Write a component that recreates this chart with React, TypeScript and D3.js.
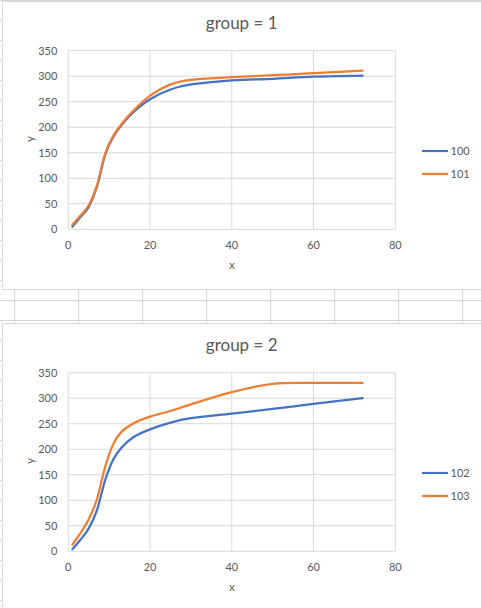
import React from 'react';
import * as d3 from 'd3';

const xValues = [1, 3, 5, 7, 9, 11, 13, 16, 20, 25, 30, 40, 50, 60, 72];

const series100 = [5, 24, 44, 83, 146, 181, 204, 230, 255, 274, 284, 292, 295, 299, 301];
const series101 = [9, 27, 47, 86, 148, 183, 206, 233, 262, 284, 293, 298, 302, 306, 311];
const series102 = [4, 23, 45, 80, 139, 180, 203, 224, 239, 252, 261, 270, 279, 289, 300];
const series103 = [13, 36, 63, 102, 165, 210, 234, 251, 264, 275, 288, 312, 328, 330, 330];

const xTicks = [0, 20, 40, 60, 80];
const yTicks = [0, 50, 100, 150, 200, 250, 300, 350];

const BLUE = '#4472C4';
const ORANGE = '#ED7D31';
const GRID = '#D9D9D9';
const TEXT = '#595959';
const FONT = 'Lato, "Noto Sans", sans-serif';

const W = 481;
const H = 608;

interface Series {
  name: string;
  values: number[];
  color: string;
}

const groups: { title: string; top: number; series: Series[] }[] = [
  {
    title: 'group = 1',
    top: 0,
    series: [
      { name: '100', values: series100, color: BLUE },
      { name: '101', values: series101, color: ORANGE },
    ],
  },
  {
    title: 'group = 2',
    top: 322,
    series: [
      { name: '102', values: series102, color: BLUE },
      { name: '103', values: series103, color: ORANGE },
    ],
  },
];

const Panel: React.FC<{ title: string; top: number; series: Series[] }> = ({ title, top, series }) => {
  const x = d3.scaleLinear().domain([0, 80]).range([68.3, 395.3]);
  const y = d3.scaleLinear().domain([0, 350]).range([229.3, 50.7]);

  // excel-style smoothing ~ uniform catmull-rom
  const line = d3
    .line<number>()
    .x((_, i) => x(xValues[i]))
    .y(d => y(d))
    .curve(d3.curveCardinal.tension(0));

  return (
    <g transform={`translate(0, ${top})`} fontFamily={FONT} fill={TEXT}>
      {/* chart area */}
      <rect x={2.5} y={1.5} width={W + 10} height={288} fill="#fff" stroke={GRID} strokeWidth={1} />

      <text x={241.7} y={29} textAnchor="middle" fontSize={17}>
        {title}
      </text>

      {/* gridlines */}
      {yTicks.map(t => (
        <line key={'gy' + t} x1={x(0)} x2={x(80)} y1={y(t)} y2={y(t)} stroke={GRID} strokeWidth={1} />
      ))}
      {xTicks.map(t => (
        <line key={'gx' + t} x1={x(t)} x2={x(t)} y1={y(0)} y2={y(350)} stroke={GRID} strokeWidth={1} />
      ))}

      {/* tick labels */}
      {yTicks.map(t => (
        <text key={'ty' + t} x={57.3} y={y(t)} dy="0.35em" textAnchor="end" fontSize={11}>
          {t}
        </text>
      ))}
      {xTicks.map(t => (
        <text key={'tx' + t} x={x(t)} y={245.3} dy="0.35em" textAnchor="middle" fontSize={11}>
          {t}
        </text>
      ))}

      {/* axis titles */}
      <text x={232} y={265} dy="0.35em" textAnchor="middle" fontSize={11}>
        x
      </text>
      <text transform={`translate(30, 139) rotate(-90)`} dy="0.35em" textAnchor="middle" fontSize={11}>
        y
      </text>

      {/* series */}
      {series.map(s => (
        <path key={s.name} d={line(s.values) || ''} fill="none" stroke={s.color} strokeWidth={2.25} strokeLinecap="round" />
      ))}

      {/* legend */}
      {series.map((s, i) => (
        <g key={'lg' + s.name} transform={`translate(0, ${151 + i * 23})`}>
          <line x1={422} x2={448} y1={0} y2={0} stroke={s.color} strokeWidth={2.25} />
          <text x={450.5} y={0} dy="0.35em" fontSize={11}>
            {s.name}
          </text>
        </g>
      ))}
    </g>
  );
};

export default function App() {
  const colLines = d3.range(14.7, W, 64);
  const rowLines = d3.range(0, H + 1, 20);

  return (
    <svg width={W} height={H} style={{ position: 'absolute', left: 0, top: 0, background: '#fff' }}>
      {/* worksheet grid behind the charts */}
      {rowLines.map(r => (
        <line key={'r' + r} x1={0} x2={W} y1={r + 0.5} y2={r + 0.5} stroke="#D4D4D4" strokeWidth={1} />
      ))}
      {colLines.map(c => (
        <line key={'c' + c} x1={c} x2={c} y1={0} y2={H} stroke="#D4D4D4" strokeWidth={1} />
      ))}
      {groups.map(g => (
        <Panel key={g.title} title={g.title} top={g.top} series={g.series} />
      ))}
    </svg>
  );
}
